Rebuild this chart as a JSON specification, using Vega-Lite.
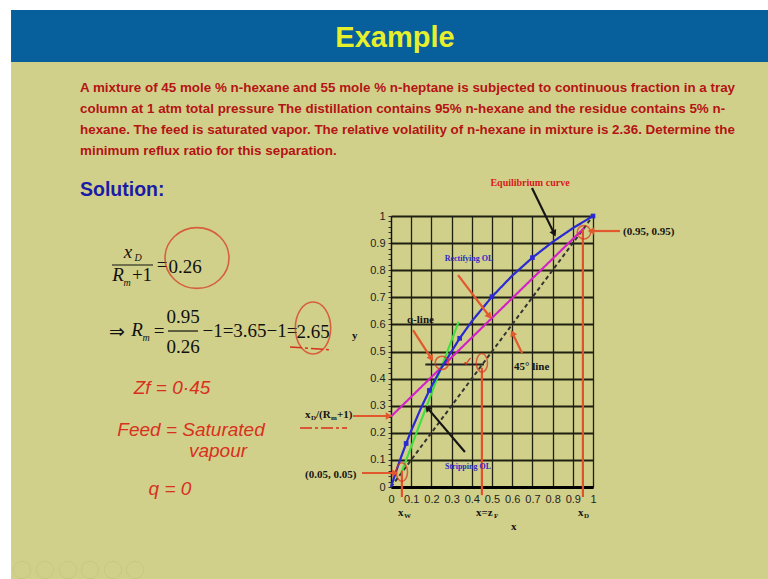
{
  "$schema": "https://vega.github.io/schema/vega-lite/v6.json",
  "width": 202,
  "height": 271,
  "autosize": {"type": "none"},
  "padding": {"left": 391, "top": 216, "right": 175, "bottom": 92},
  "background": "#d1d08a",
  "config": {"view": {"stroke": null}},
  "datasets": {
    "bars": [{"x": -1.881, "x2": 1.95, "y": 1.5683, "y2": 1.7601}],
    "white": [
      {"x": -2.0, "x2": -1.881, "y": -0.45, "y2": 1.95},
      {"x": -2.0, "x2": 1.95, "y": 1.7601, "y2": 1.95}
    ],
    "title": [{"x": 0.0198, "y": 1.657, "t": "Example"}],
    "para": [
      {"x": -1.5396, "y": 1.4723, "t": "A mixture of 45 mole % n-hexane and 55 mole % n-heptane is subjected to continuous fraction in a tray"},
      {"x": -1.5396, "y": 1.3948, "t": "column at 1 atm total pressure  The distillation contains 95% n-hexane and the residue contains 5% n-"},
      {"x": -1.5396, "y": 1.3173, "t": "hexane. The feed is saturated vapor. The relative volatility of n-hexane in mixture is 2.36. Determine the"},
      {"x": -1.5396, "y": 1.2399, "t": "minimum reflux ratio for this separation."}
    ],
    "solution": [{"x": -1.5396, "y": 1.0959, "t": "Solution:"}],
    "eq": [
      {"x": -1.1337, "y": 0.8192, "t": "="},
      {"x": -1.0198, "y": 0.8118, "t": "0.26"},
      {"x": -1.2327, "y": 0.7823, "t": "+1"},
      {"x": -1.3564, "y": 0.572, "t": "⇒"},
      {"x": -1.1485, "y": 0.5756, "t": "="},
      {"x": -1.0297, "y": 0.6273, "t": "0.95"},
      {"x": -1.0297, "y": 0.5166, "t": "0.26"},
      {"x": -0.698, "y": 0.5756, "t": "−1=3.65−1="},
      {"x": -0.3861, "y": 0.572, "t": "2.65"}
    ],
    "eqit": [
      {"x": -1.302, "y": 0.8672, "t": "x"},
      {"x": -1.3515, "y": 0.7823, "t": "R"},
      {"x": -1.2574, "y": 0.5793, "t": "R"}
    ],
    "eqsub": [
      {"x": -1.2525, "y": 0.845, "t": "D"},
      {"x": -1.3069, "y": 0.7528, "t": "m"},
      {"x": -1.2129, "y": 0.5498, "t": "m"}
    ],
    "fracbars": [
      {"x": -1.3812, "x2": -1.1782, "y": 0.8192},
      {"x": -1.104, "x2": -0.9554, "y": 0.5756}
    ],
    "hand": [
      {"x": -1.0842, "y": 0.3653, "t": "Zf = 0·45"},
      {"x": -0.99, "y": 0.2103, "t": "Feed = Saturated"},
      {"x": -0.8564, "y": 0.1328, "t": "vapour"},
      {"x": -1.0941, "y": -0.0074, "t": "q  =  0"}
    ],
    "redstrokes": [
      {"x": -0.4505, "x2": -0.2178, "y": 0.2177, "y2": 0.2177},
      {"x": -0.5, "x2": -0.292, "y": 0.5166, "y2": 0.5055}
    ],
    "bigring": [{"x": -0.9604, "y": 0.845}],
    "ring265": [{"x": -0.3861, "y": 0.5867}],
    "smallring": [{"x": 0.955, "y": 0.94}, {"x": 0.252, "y": 0.458}],
    "tallring": [{"x": 0.054, "y": 0.055}, {"x": 0.45, "y": 0.458}],
    "lines": [
      {"s": "diag", "x": 0, "y": 0}, {"s": "diag", "x": 1, "y": 1},
      {"s": "rect", "x": 0, "y": 0.26}, {"s": "rect", "x": 0.955, "y": 0.955},
      {"s": "strip", "x": 0.05, "y": 0.05}, {"s": "strip", "x": 0.335, "y": 0.61},
      {"s": "q", "x": 0.17, "y": 0.452}, {"s": "q", "x": 0.46, "y": 0.452},
      {"s": "eq", "x": 0, "y": 0},
      {"s": "eq", "x": 0.025, "y": 0.0571},
      {"s": "eq", "x": 0.05, "y": 0.1105},
      {"s": "eq", "x": 0.075, "y": 0.1606},
      {"s": "eq", "x": 0.1, "y": 0.2077},
      {"s": "eq", "x": 0.15, "y": 0.294},
      {"s": "eq", "x": 0.19, "y": 0.3563},
      {"s": "eq", "x": 0.25, "y": 0.4403},
      {"s": "eq", "x": 0.34, "y": 0.5487},
      {"s": "eq", "x": 0.4, "y": 0.6114},
      {"s": "eq", "x": 0.5, "y": 0.7024},
      {"s": "eq", "x": 0.6, "y": 0.7797},
      {"s": "eq", "x": 0.7, "y": 0.8463},
      {"s": "eq", "x": 0.8, "y": 0.9042},
      {"s": "eq", "x": 0.9, "y": 0.955},
      {"s": "eq", "x": 1.0, "y": 1.0}
    ],
    "eqpts": [
      {"x": 0.075, "y": 0.1606},
      {"x": 0.19, "y": 0.3563},
      {"x": 0.34, "y": 0.5487},
      {"x": 0.5, "y": 0.7024},
      {"x": 0.7, "y": 0.8463},
      {"x": 1.0, "y": 1.0}
    ],
    "verts": [
      {"x": 0.054, "y": 0.06, "y2": -0.037},
      {"x": 0.45, "y": 0.44, "y2": -0.03},
      {"x": 0.95, "y": 0.95, "y2": -0.037}
    ],
    "arrows": [
      {"k": "ar", "x": 1.1337, "y": 0.9446, "x2": 0.99, "y2": 0.9446},
      {"k": "ar", "x": -0.1436, "y": 0.0517, "x2": 0.02, "y2": 0.0517},
      {"k": "ar", "x": -0.1881, "y": 0.262, "x2": -0.01, "y2": 0.262},
      {"k": "ar", "x": 0.109, "y": 0.579, "x2": 0.2, "y2": 0.474},
      {"k": "ar", "x": 0.332, "y": 0.782, "x2": 0.487, "y2": 0.63},
      {"k": "ar", "x": 0.649, "y": 0.494, "x2": 0.601, "y2": 0.568},
      {"k": "ab", "x": 0.698, "y": 1.103, "x2": 0.808, "y2": 0.935},
      {"k": "ab", "x": 0.366, "y": 0.129, "x2": 0.18, "y2": 0.292}
    ],
    "notes": [
      {"x": 1.1485, "y": 0.941, "t": "(0.95, 0.95)"},
      {"x": -0.4257, "y": 0.0443, "t": "(0.05, 0.05)"},
      {"x": 0.0792, "y": 0.6162, "t": "q-line"},
      {"x": 0.6089, "y": 0.4428, "t": "45° line"},
      {"x": 0.5941, "y": -0.1476, "t": "x"},
      {"x": -0.1931, "y": 0.5572, "t": "y"},
      {"x": -0.4257, "y": 0.2657, "t": "x"},
      {"x": -0.3713, "y": 0.2657, "t": "/(R"},
      {"x": -0.2673, "y": 0.2657, "t": "+1)"},
      {"x": 0.0347, "y": -0.0959, "t": "x"},
      {"x": 0.4208, "y": -0.0959, "t": "x=z"},
      {"x": 0.9257, "y": -0.0959, "t": "x"}
    ],
    "notesub": [
      {"x": -0.396, "y": 0.2546, "t": "D"},
      {"x": -0.297, "y": 0.2546, "t": "m"},
      {"x": 0.0644, "y": -0.107, "t": "W"},
      {"x": 0.5099, "y": -0.107, "t": "F"},
      {"x": 0.9554, "y": -0.107, "t": "D"}
    ],
    "rednote": [{"x": 0.6881, "y": 1.1218, "t": "Equilibrium curve"}],
    "bluenote": [
      {"x": 0.3861, "y": 0.8413, "t": "Rectifying OL"},
      {"x": 0.3812, "y": 0.0738, "t": "Stripping OL"}
    ],
    "check": [{"x": 0.3812, "y": 0.4613, "t": "✓"}],
    "icons": [
      {"x": -1.8267, "y": -0.306}, {"x": -1.7129, "y": -0.306}, {"x": -1.599, "y": -0.306},
      {"x": -1.4901, "y": -0.306}, {"x": -1.3762, "y": -0.306}, {"x": -1.2673, "y": -0.306}
    ]
  },
  "encoding": {
    "x": {
      "field": "x", "type": "quantitative",
      "scale": {"domain": [0, 1], "nice": false, "zero": false},
      "axis": {
        "title": null,
        "values": [0, 0.1, 0.2, 0.3, 0.4, 0.5, 0.6, 0.7, 0.8, 0.9, 1],
        "format": ".1~f",
        "ticks": false,
        "grid": true, "gridColor": "#1f1f12", "gridWidth": 1.3,
        "domainColor": "#000", "domainWidth": 3,
        "labelFont": "Liberation Sans", "labelFontSize": 11, "labelColor": "#222",
        "labelPadding": 6, "labelOverlap": false, "labelFlush": false
      }
    },
    "y": {
      "field": "y", "type": "quantitative",
      "scale": {"domain": [0, 1], "nice": false, "zero": false},
      "axis": {
        "title": null,
        "values": [0, 0.02, 0.04, 0.06, 0.08, 0.1, 0.12, 0.14, 0.16, 0.18, 0.2, 0.22, 0.24, 0.26, 0.28, 0.3, 0.32, 0.34, 0.36, 0.38, 0.4, 0.42, 0.44, 0.46, 0.48, 0.5, 0.52, 0.54, 0.56, 0.58, 0.6, 0.62, 0.64, 0.66, 0.68, 0.7, 0.72, 0.74, 0.76, 0.78, 0.8, 0.82, 0.84, 0.86, 0.88, 0.9, 0.92, 0.94, 0.96, 0.98, 1],
        "labelExpr": "abs(datum.value*10 - round(datum.value*10)) < 0.01 ? format(datum.value, '.1~f') : ''",
        "grid": true, "gridColor": "#1f1f12", "gridWidth": 1.8,
        "gridOpacity": {"condition": {"test": "abs(datum.value*10 - round(datum.value*10)) < 0.01", "value": 1}, "value": 0},
        "ticks": true, "tickSize": 3, "tickColor": "#333", "tickWidth": 1,
        "domainColor": "#111", "domainWidth": 1.2,
        "labelFont": "Liberation Sans", "labelFontSize": 11, "labelColor": "#222",
        "labelPadding": 3, "labelOverlap": false, "labelFlush": false
      }
    }
  },
  "layer": [
    {"data": {"name": "white"}, "mark": {"type": "rect", "color": "#ffffff", "clip": false},
     "encoding": {"x2": {"field": "x2"}, "y2": {"field": "y2"}}},
    {"data": {"name": "bars"}, "mark": {"type": "rect", "color": "#075f9b", "clip": false},
     "encoding": {"x2": {"field": "x2"}, "y2": {"field": "y2"}}},
    {"data": {"name": "title"}, "mark": {"type": "text", "font": "Liberation Sans", "fontSize": 29, "fontWeight": "bold", "color": "#e6ef2c", "align": "center", "baseline": "middle", "clip": false},
     "encoding": {"text": {"field": "t"}}},
    {"data": {"name": "para"}, "mark": {"type": "text", "font": "Liberation Sans", "fontSize": 13.4, "fontWeight": "bold", "color": "#b41414", "align": "left", "baseline": "middle", "clip": false},
     "encoding": {"text": {"field": "t"}}},
    {"data": {"name": "solution"}, "mark": {"type": "text", "font": "Liberation Sans", "fontSize": 19.5, "fontWeight": "bold", "color": "#1b1ba6", "align": "left", "baseline": "middle", "clip": false},
     "encoding": {"text": {"field": "t"}}},
    {"data": {"name": "eq"}, "mark": {"type": "text", "font": "Liberation Serif", "fontSize": 19, "color": "#111", "align": "center", "baseline": "middle", "clip": false},
     "encoding": {"text": {"field": "t"}}},
    {"data": {"name": "eqit"}, "mark": {"type": "text", "font": "Liberation Serif", "fontSize": 19, "fontStyle": "italic", "color": "#111", "align": "center", "baseline": "middle", "clip": false},
     "encoding": {"text": {"field": "t"}}},
    {"data": {"name": "eqsub"}, "mark": {"type": "text", "font": "Liberation Serif", "fontSize": 10, "fontStyle": "italic", "color": "#111", "align": "center", "baseline": "middle", "clip": false},
     "encoding": {"text": {"field": "t"}}},
    {"data": {"name": "fracbars"}, "mark": {"type": "rule", "color": "#111", "strokeWidth": 1.2, "clip": false},
     "encoding": {"x2": {"field": "x2"}}},
    {"data": {"name": "hand"}, "mark": {"type": "text", "font": "Liberation Sans", "fontSize": 19, "fontStyle": "italic", "color": "#d8301e", "align": "center", "baseline": "middle", "clip": false},
     "encoding": {"text": {"field": "t"}}},
    {"data": {"name": "redstrokes"}, "mark": {"type": "rule", "color": "#d8301e", "strokeWidth": 1.5, "strokeDash": [12, 3, 3, 3], "clip": false},
     "encoding": {"x2": {"field": "x2"}, "y2": {"field": "y2"}}},
    {"data": {"name": "bigring"}, "mark": {"type": "point", "shape": "M-1,0A1,0.95 0 1,0 1,0A1,0.95 0 1,0 -1,0", "size": 4096, "filled": false, "color": "#d8301e", "strokeWidth": 1.6, "clip": false},
     "encoding": {}},
    {"data": {"name": "ring265"}, "mark": {"type": "point", "shape": "M-0.68,0A0.68,1 0 1,0 0.68,0A0.68,1 0 1,0 -0.68,0", "size": 2704, "filled": false, "color": "#d8301e", "strokeWidth": 1.6, "clip": false},
     "encoding": {}},
    {"data": {"name": "lines"}, "mark": {"type": "line", "clip": false},
     "encoding": {
       "color": {"field": "s", "type": "nominal", "legend": null, "scale": {"domain": ["eq", "rect", "strip", "q", "diag", "ar", "ab"], "range": ["#2a2ad2", "#d221c6", "#3fe03f", "#222222", "#333333", "#e2582e", "#151515"]}},
       "strokeDash": {"field": "s", "type": "nominal", "legend": null, "scale": {"domain": ["eq", "rect", "strip", "q", "diag"], "range": [[1, 0], [1, 0], [1, 0], [1, 0], [4, 3]]}},
       "strokeWidth": {"field": "s", "type": "nominal", "legend": null, "scale": {"domain": ["eq", "rect", "strip", "q", "diag"], "range": [2.2, 2, 1.5, 1.2, 1]}}
     }},
    {"data": {"name": "eqpts"}, "mark": {"type": "point", "shape": "square", "filled": true, "size": 22, "color": "#2a2ad2", "opacity": 1, "clip": false},
     "encoding": {}},
    {"data": {"name": "verts"}, "mark": {"type": "rule", "color": "#e2502c", "strokeWidth": 2.2, "clip": false},
     "encoding": {"y2": {"field": "y2"}}},
    {"data": {"name": "smallring"}, "mark": {"type": "point", "shape": "circle", "size": 180, "filled": false, "color": "#d8301e", "strokeWidth": 1.5, "clip": false},
     "encoding": {}},
    {"data": {"name": "tallring"}, "mark": {"type": "point", "shape": "M-0.6,0A0.6,1 0 1,0 0.6,0A0.6,1 0 1,0 -0.6,0", "size": 350, "filled": false, "color": "#d8301e", "strokeWidth": 1.5, "clip": false},
     "encoding": {}},
    {"data": {"name": "arrows"}, "mark": {"type": "rule", "strokeWidth": 2.2, "clip": false},
     "encoding": {
       "x2": {"field": "x2"}, "y2": {"field": "y2"},
       "color": {"field": "k", "type": "nominal", "legend": null, "scale": {"domain": ["eq", "rect", "strip", "q", "diag", "ar", "ab"], "range": ["#2a2ad2", "#d221c6", "#3fe03f", "#222222", "#333333", "#e2582e", "#151515"]}}
     }},
    {"data": {"name": "arrows"},
     "transform": [{"calculate": "atan2((datum.x2-datum.x)*202, (datum.y2-datum.y)*271)*180/PI", "as": "ang"}],
     "mark": {"type": "point", "shape": "triangle-up", "filled": true, "size": 55, "opacity": 1, "clip": false},
     "encoding": {
       "x": {"field": "x2", "type": "quantitative"},
       "y": {"field": "y2", "type": "quantitative"},
       "angle": {"field": "ang", "type": "quantitative", "scale": null},
       "color": {"field": "k", "type": "nominal", "legend": null, "scale": {"domain": ["eq", "rect", "strip", "q", "diag", "ar", "ab"], "range": ["#2a2ad2", "#d221c6", "#3fe03f", "#222222", "#333333", "#e2582e", "#151515"]}}
     }},
    {"data": {"name": "notes"}, "mark": {"type": "text", "font": "Liberation Serif", "fontSize": 11, "fontWeight": "bold", "color": "#151515", "align": "left", "baseline": "middle", "clip": false},
     "encoding": {"text": {"field": "t"}}},
    {"data": {"name": "notesub"}, "mark": {"type": "text", "font": "Liberation Serif", "fontSize": 7, "fontWeight": "bold", "color": "#151515", "align": "left", "baseline": "middle", "clip": false},
     "encoding": {"text": {"field": "t"}}},
    {"data": {"name": "rednote"}, "mark": {"type": "text", "font": "Liberation Serif", "fontSize": 10, "fontWeight": "bold", "color": "#d81a1a", "align": "center", "baseline": "middle", "clip": false},
     "encoding": {"text": {"field": "t"}}},
    {"data": {"name": "bluenote"}, "mark": {"type": "text", "font": "Liberation Serif", "fontSize": 8, "fontWeight": "bold", "color": "#2a2ac4", "align": "center", "baseline": "middle", "clip": false},
     "encoding": {"text": {"field": "t"}}},
    {"data": {"name": "check"}, "mark": {"type": "text", "font": "DejaVu Sans", "fontSize": 13, "color": "#d8301e", "align": "center", "baseline": "middle", "clip": false},
     "encoding": {"text": {"field": "t"}}},
    {"data": {"name": "icons"}, "mark": {"type": "point", "shape": "circle", "size": 300, "filled": false, "color": "#b9b97a", "strokeWidth": 1, "opacity": 0.35, "clip": false},
     "encoding": {}}
  ]
}
